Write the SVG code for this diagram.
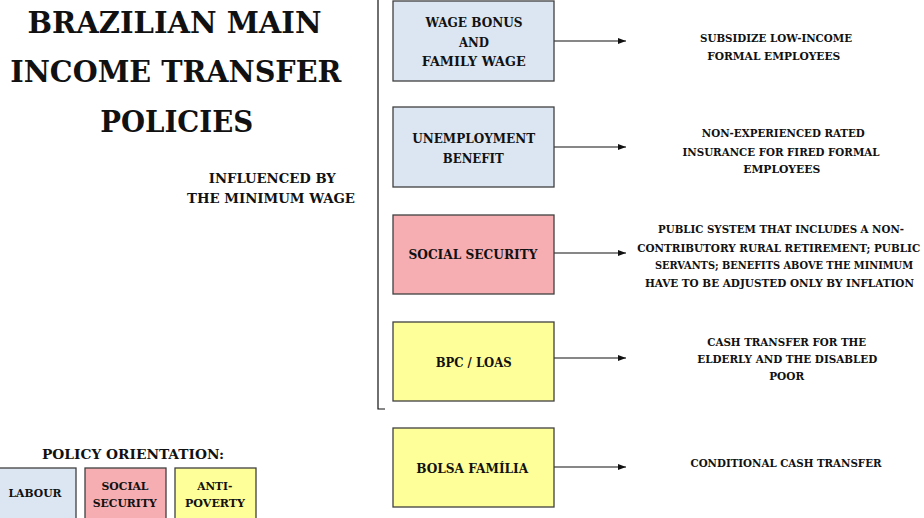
<svg xmlns="http://www.w3.org/2000/svg" width="924" height="518" viewBox="0 0 924 518">
<defs>
<style>
text{font-family:'DejaVu Serif Condensed','DejaVu Serif',serif;font-weight:bold;fill:#111;text-anchor:middle}
.box{stroke:#404040;stroke-width:1.3}
.lab{fill:#dce6f2}.soc{fill:#f6aeb2}.pov{fill:#ffff99}
.h{font-size:30.5px}.m{font-size:13px}
.t{font-size:13px}.d{font-size:11.2px}.s{font-size:11.5px}
.conn{stroke:#111;stroke-width:1.2;fill:none}
</style>
<marker id="ah" markerWidth="8" markerHeight="6" refX="8" refY="3" orient="auto" markerUnits="userSpaceOnUse"><path d="M0,0 L8,3 L0,6 z" fill="#111"/></marker>
</defs>
<rect width="924" height="518" fill="#fff"/>
<g id="title">
<text class="h" x="174.5" y="33.3" textLength="294" lengthAdjust="spacingAndGlyphs">BRAZILIAN MAIN</text>
<text class="h" x="175.8" y="82.3" textLength="331" lengthAdjust="spacingAndGlyphs">INCOME TRANSFER</text>
<text class="h" x="176.7" y="131.7" textLength="153" lengthAdjust="spacingAndGlyphs">POLICIES</text>
<text class="m" x="272.3" y="182.7" textLength="127" lengthAdjust="spacingAndGlyphs">INFLUENCED BY</text>
<text class="m" x="271" y="203.3" textLength="168" lengthAdjust="spacingAndGlyphs">THE MINIMUM WAGE</text>
</g>
<g id="connectors">
<path class="conn" d="M378,0 V409 H385"/>
<line class="conn" x1="554" y1="41" x2="626" y2="41" marker-end="url(#ah)"/>
<line class="conn" x1="554" y1="147" x2="626" y2="147" marker-end="url(#ah)"/>
<line class="conn" x1="554" y1="253" x2="626" y2="253" marker-end="url(#ah)"/>
<line class="conn" x1="554" y1="358" x2="626" y2="358" marker-end="url(#ah)"/>
<line class="conn" x1="554" y1="467" x2="626" y2="467" marker-end="url(#ah)"/>
</g>
<g id="wage-bonus">
<rect class="box lab" x="393" y="1" width="161" height="80"/>
<text class="t" x="474" y="26.7" textLength="97" lengthAdjust="spacingAndGlyphs">WAGE BONUS</text>
<text class="t" x="474" y="46.7" textLength="30" lengthAdjust="spacingAndGlyphs">AND</text>
<text class="t" x="473.7" y="66" textLength="104" lengthAdjust="spacingAndGlyphs">FAMILY WAGE</text>
</g>
<g id="unemployment">
<rect class="box lab" x="393" y="107" width="161" height="80"/>
<text class="t" x="473.7" y="143.3" textLength="123" lengthAdjust="spacingAndGlyphs">UNEMPLOYMENT</text>
<text class="t" x="473.3" y="163.3" textLength="61" lengthAdjust="spacingAndGlyphs">BENEFIT</text>
</g>
<g id="social-security">
<rect class="box soc" x="393" y="215" width="161" height="79"/>
<text class="t" x="473" y="259.3" textLength="129" lengthAdjust="spacingAndGlyphs">SOCIAL SECURITY</text>
</g>
<g id="bpc-loas">
<rect class="box pov" x="393" y="322" width="161" height="79"/>
<text class="t" x="473.7" y="366.7" textLength="76" lengthAdjust="spacingAndGlyphs">BPC / LOAS</text>
</g>
<g id="bolsa-familia">
<rect class="box pov" x="393" y="428" width="161" height="79"/>
<text class="t" x="472.2" y="472.7" textLength="112" lengthAdjust="spacingAndGlyphs">BOLSA FAMÍLIA</text>
</g>
<g id="desc-wage">
<text class="d" x="776" y="41.7" textLength="152" lengthAdjust="spacingAndGlyphs">SUBSIDIZE LOW-INCOME</text>
<text class="d" x="773.7" y="60" textLength="133" lengthAdjust="spacingAndGlyphs">FORMAL EMPLOYEES</text>
</g>
<g id="desc-unemployment">
<text class="d" x="783.3" y="136.7" textLength="163" lengthAdjust="spacingAndGlyphs">NON-EXPERIENCED RATED</text>
<text class="d" x="781" y="156" textLength="197" lengthAdjust="spacingAndGlyphs">INSURANCE FOR FIRED FORMAL</text>
<text class="d" x="781.7" y="172.7" textLength="77" lengthAdjust="spacingAndGlyphs">EMPLOYEES</text>
</g>
<g id="desc-social">
<text class="d" x="781" y="233.3" textLength="246" lengthAdjust="spacingAndGlyphs">PUBLIC SYSTEM THAT INCLUDES A NON-</text>
<text class="d" x="778.7" y="251.7" textLength="283" lengthAdjust="spacingAndGlyphs">CONTRIBUTORY RURAL RETIREMENT; PUBLIC</text>
<text class="d" x="784" y="269.3" textLength="258" lengthAdjust="spacingAndGlyphs">SERVANTS; BENEFITS ABOVE THE MINIMUM</text>
<text class="d" x="779.5" y="286.7" textLength="269" lengthAdjust="spacingAndGlyphs">HAVE TO BE ADJUSTED ONLY BY INFLATION</text>
</g>
<g id="desc-bpc">
<text class="d" x="786.7" y="345.7" textLength="159" lengthAdjust="spacingAndGlyphs">CASH TRANSFER FOR THE</text>
<text class="d" x="787.3" y="362.7" textLength="180" lengthAdjust="spacingAndGlyphs">ELDERLY AND THE DISABLED</text>
<text class="d" x="786.7" y="380" textLength="35" lengthAdjust="spacingAndGlyphs">POOR</text>
</g>
<g id="desc-bolsa">
<text class="d" x="786" y="467.3" textLength="191" lengthAdjust="spacingAndGlyphs">CONDITIONAL CASH TRANSFER</text>
</g>
<g id="legend">
<text class="m" x="133" y="459.3" textLength="182" lengthAdjust="spacingAndGlyphs">POLICY ORIENTATION:</text>
<rect class="box lab" x="-1" y="468" width="77" height="52"/>
<text class="s" x="35" y="496.7" textLength="53" lengthAdjust="spacingAndGlyphs">LABOUR</text>
<rect class="box soc" x="85" y="468" width="81" height="52"/>
<text class="s" x="125" y="490" textLength="47" lengthAdjust="spacingAndGlyphs">SOCIAL</text>
<text class="s" x="124.7" y="506.7" textLength="64" lengthAdjust="spacingAndGlyphs">SECURITY</text>
<rect class="box pov" x="175" y="468" width="81" height="52"/>
<text class="s" x="214.8" y="490" textLength="35" lengthAdjust="spacingAndGlyphs">ANTI-</text>
<text class="s" x="215" y="506.7" textLength="60" lengthAdjust="spacingAndGlyphs">POVERTY</text>
</g>
</svg>
